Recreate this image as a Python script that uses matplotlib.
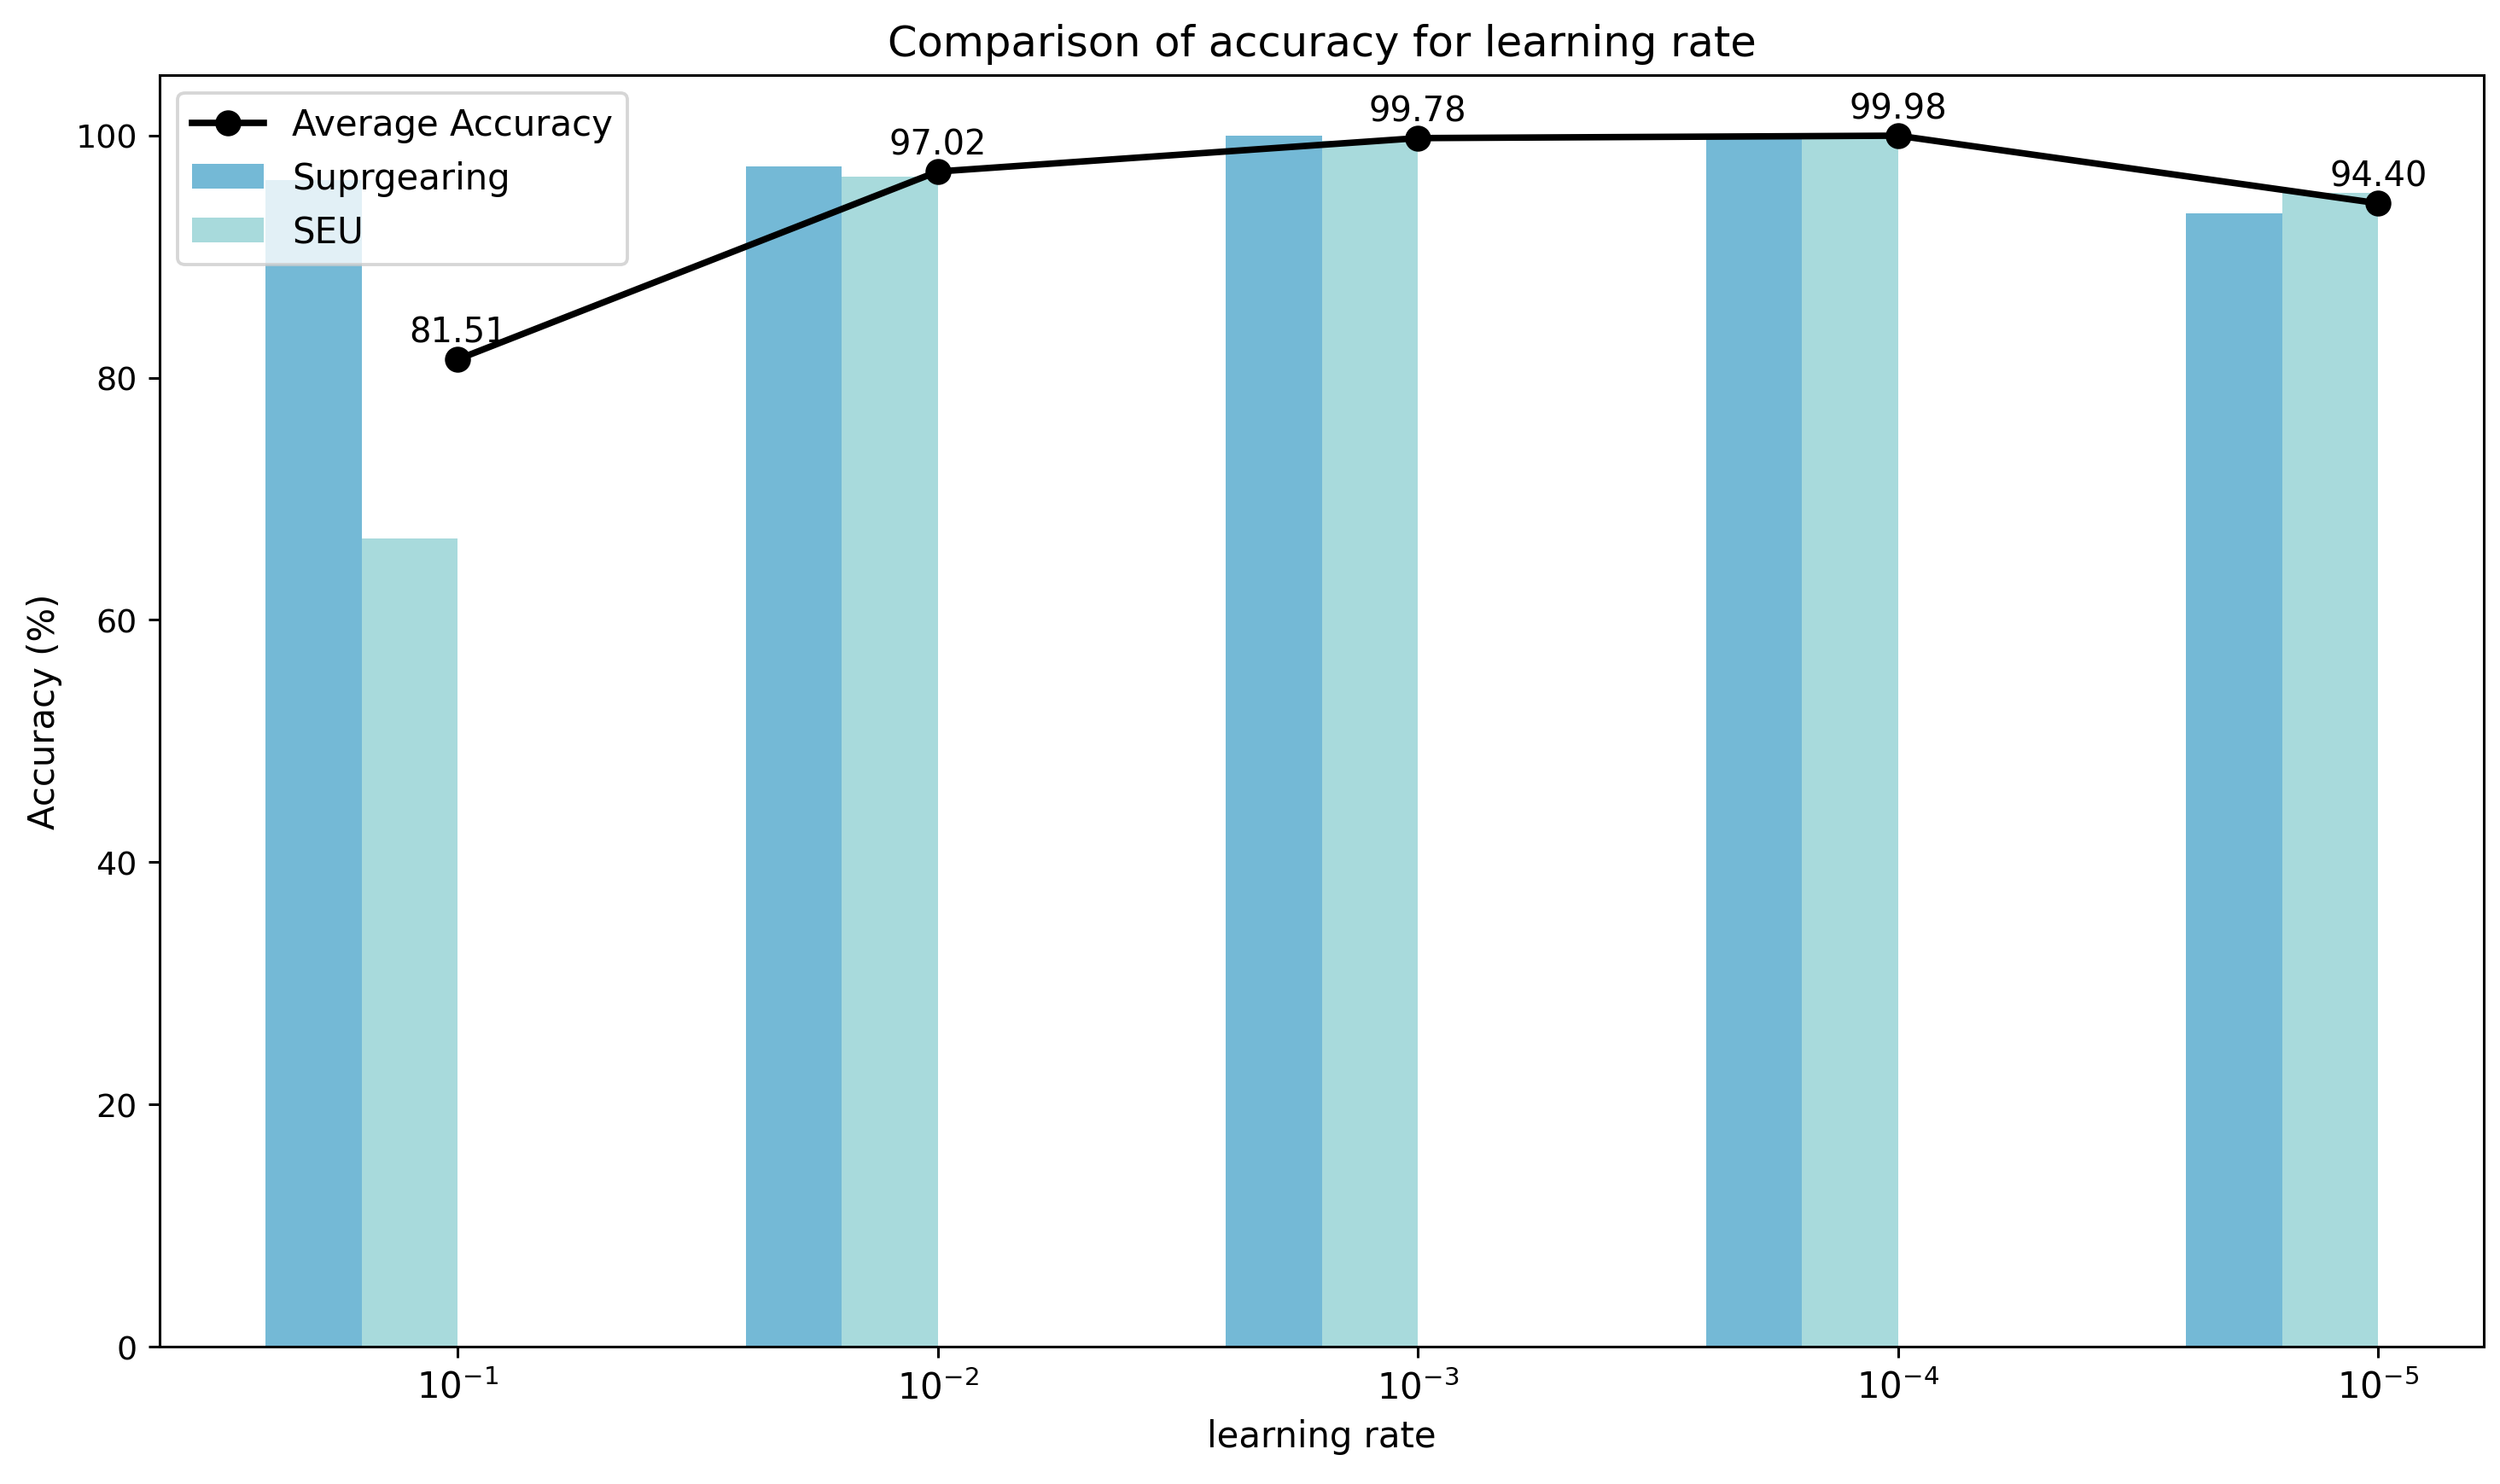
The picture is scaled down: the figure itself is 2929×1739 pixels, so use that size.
import matplotlib
matplotlib.use("Agg")
import matplotlib.pyplot as plt
import numpy as np

# values
learning_rates = ["$10^{-1}$", "$10^{-2}$", "$10^{-3}$", "$10^{-4}$", "$10^{-5}$"]
suprgearing = [96.32, 97.46, 100.00, 100.00, 93.55]
seu = [66.70, 96.58, 99.56, 99.96, 95.25]
average = [81.51, 97.02, 99.78, 99.98, 94.40]

x = np.arange(len(learning_rates))
width = 0.2
DPI = 274

fig, ax = plt.subplots(figsize=(2929 / DPI, 1740 / DPI), dpi=DPI)
fig.subplots_adjust(left=0.064, right=0.9935, top=0.949, bottom=0.0925)

ax.bar(x - 2 * width, suprgearing, width, align="edge", color="#74b9d6", label="Suprgearing")
ax.bar(x - width, seu, width, align="edge", color="#a8dadc", label="SEU")
ax.plot(x, average, color="black", marker="o", linewidth=2, markersize=7, label="Average Accuracy")

for xi, v in zip(x, average):
    ax.annotate(f"{v:.2f}", (xi, v), xytext=(0, 3), textcoords="offset points",
                ha="center", va="bottom", fontsize=10.5)

ax.set_xticks(x)
ax.set_xticklabels(learning_rates, fontsize=11)
ax.tick_params(axis="y", labelsize=10)
ax.set_xlabel("learning rate", fontsize=11)
ax.set_ylabel("Accuracy (%)", fontsize=11)
ax.set_title("Comparison of accuracy for learning rate", fontsize=13)
ax.legend(loc="upper left", fontsize=11)

fig.savefig("out.png", dpi=DPI)
